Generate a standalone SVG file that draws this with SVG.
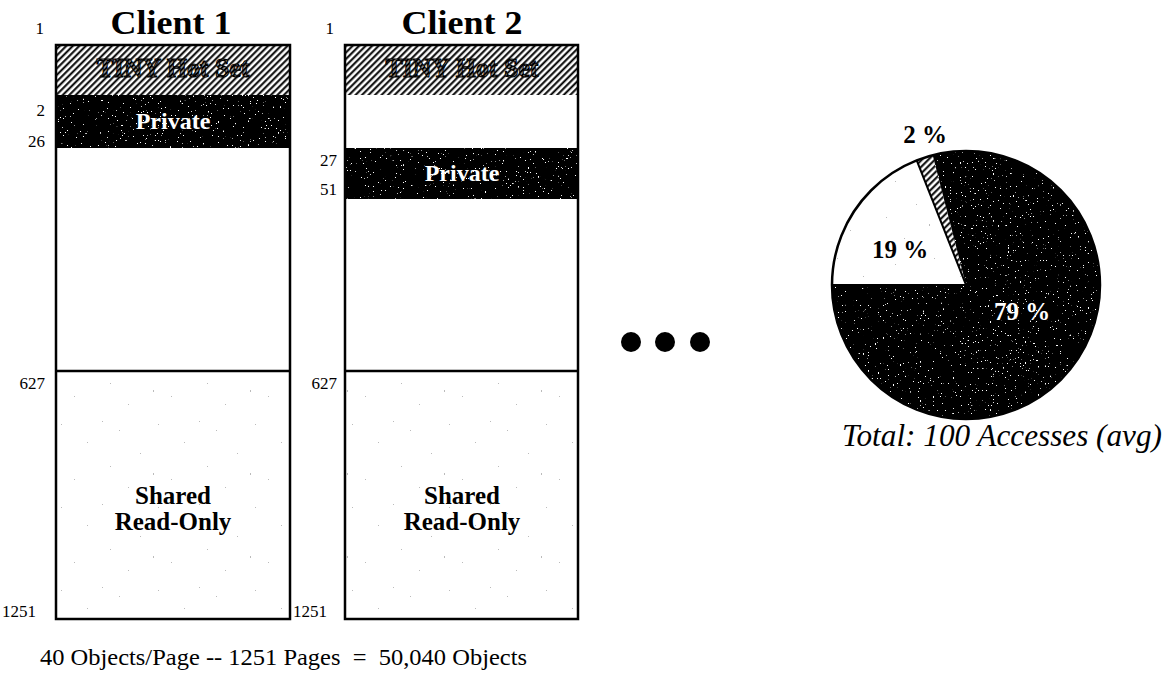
<svg xmlns="http://www.w3.org/2000/svg" width="1167" height="683" viewBox="0 0 1167 683">
  <style>
    .title { font-family: "Liberation Serif", "Times New Roman", serif; font-weight: bold; font-size: 33px; fill: #000; }
    .num { font-family: "Liberation Serif", "Times New Roman", serif; font-size: 17px; fill: #000; }
    .band { font-family: "Liberation Serif", "Times New Roman", serif; font-weight: bold; }
    .hot { font-size: 28px; fill: url(#hatchText); stroke: #000; stroke-width: 1; }
    .priv { font-size: 24px; fill: #fff; }
    .shared { font-size: 25px; fill: #000; }
    .pct { font-family: "Liberation Serif", "Times New Roman", serif; font-weight: bold; font-size: 25px; }
    .caption { font-family: "Liberation Serif", "Times New Roman", serif; font-size: 23px; fill: #000; }
    .total { font-family: "Liberation Serif", "Times New Roman", serif; font-style: italic; font-size: 31px; fill: #000; }
    .frame { fill: none; stroke: #000; stroke-width: 2.5; }
    .rule { stroke: #000; stroke-width: 2.5; }
    .dark { fill: #000; filter: url(#specks); }
  </style>
  <defs>
    <!-- diagonal "/" hatching -->
    <pattern id="hatch" width="4.6" height="4.6" patternUnits="userSpaceOnUse" patternTransform="rotate(45)">
      <rect width="4.6" height="4.6" fill="#fff"/>
      <line x1="1.2" y1="0" x2="1.2" y2="4.6" stroke="#000" stroke-width="2"/>
    </pattern>
    <pattern id="hatchText" width="3.4" height="3.4" patternUnits="userSpaceOnUse" patternTransform="rotate(45)">
      <rect width="3.4" height="3.4" fill="#000"/>
      <line x1="2.6" y1="0" x2="2.6" y2="3.4" stroke="#fff" stroke-width="0.9"/>
    </pattern>
    <!-- black fill sprinkled with white specks -->
    <filter id="specks" x="0" y="0" width="100%" height="100%" color-interpolation-filters="sRGB">
      <feTurbulence type="fractalNoise" baseFrequency="0.6" numOctaves="2" seed="7" result="noise"/>
      <feColorMatrix in="noise" type="matrix" values="0 0 0 0 1  0 0 0 0 1  0 0 0 0 1  26 0 0 0 -18.5" result="dots"/>
      <feComposite in="dots" in2="SourceGraphic" operator="in" result="clip"/>
      <feMerge>
        <feMergeNode in="SourceGraphic"/>
        <feMergeNode in="clip"/>
      </feMerge>
    </filter>
    <!-- faint grey dots on white -->
    <pattern id="faint" width="97" height="83" patternUnits="userSpaceOnUse">
      <rect width="97" height="83" fill="#fff"/>
      <g fill="#bbb">
        <rect x="5" y="6" width="1" height="1"/>
        <rect x="22" y="15" width="1" height="1"/>
        <rect x="61" y="9" width="1" height="1"/>
        <rect x="13" y="51" width="1" height="1"/>
        <rect x="43" y="38" width="1" height="1"/>
        <rect x="87" y="27" width="1" height="1"/>
        <rect x="74" y="64" width="1" height="1"/>
        <rect x="31" y="72" width="1" height="1"/>
        <rect x="56" y="58" width="1" height="2"/>
      </g>
    </pattern>
  </defs>

  <!-- Client 1 page column -->
  <g id="client1">
    <text class="title" x="171" y="34" text-anchor="middle" textLength="121" lengthAdjust="spacingAndGlyphs">Client 1</text>
    <rect x="56" y="45" width="234" height="50" fill="url(#hatch)"/>
    <rect class="dark" x="56" y="95" width="234" height="53"/>
    <rect x="56" y="148" width="234" height="223" fill="#fff"/>
    <rect x="56" y="371" width="234" height="248" fill="url(#faint)"/>
    <rect class="frame" x="56" y="45" width="234" height="574"/>
    <line class="rule" x1="56" y1="371" x2="290" y2="371"/>
    <text class="band hot" x="173" y="77" text-anchor="middle" textLength="153" lengthAdjust="spacingAndGlyphs">TINY Hot Set</text>
    <text class="band priv" x="173" y="129" text-anchor="middle">Private</text>
    <text class="band shared" x="173" y="504" text-anchor="middle">Shared</text>
    <text class="band shared" x="173" y="530" text-anchor="middle">Read-Only</text>
    <text class="num" x="44" y="34" text-anchor="end">1</text>
    <text class="num" x="45" y="116" text-anchor="end">2</text>
    <text class="num" x="45" y="147" text-anchor="end">26</text>
    <text class="num" x="45" y="389" text-anchor="end">627</text>
    <text class="num" x="36" y="617" text-anchor="end" font-size="15">1251</text>
  </g>

  <!-- Client 2 page column -->
  <g id="client2">
    <text class="title" x="462" y="34" text-anchor="middle" textLength="121" lengthAdjust="spacingAndGlyphs">Client 2</text>
    <rect x="345" y="45" width="233" height="50" fill="url(#hatch)"/>
    <rect x="345" y="95" width="233" height="53" fill="#fff"/>
    <rect class="dark" x="345" y="148" width="233" height="51"/>
    <rect x="345" y="199" width="233" height="172" fill="#fff"/>
    <rect x="345" y="371" width="233" height="248" fill="url(#faint)"/>
    <rect class="frame" x="345" y="45" width="233" height="574"/>
    <line class="rule" x1="345" y1="371" x2="578" y2="371"/>
    <text class="band hot" x="462" y="77" text-anchor="middle" textLength="153" lengthAdjust="spacingAndGlyphs">TINY Hot Set</text>
    <text class="band priv" x="462" y="181" text-anchor="middle">Private</text>
    <text class="band shared" x="462" y="504" text-anchor="middle">Shared</text>
    <text class="band shared" x="462" y="530" text-anchor="middle">Read-Only</text>
    <text class="num" x="334" y="34" text-anchor="end">1</text>
    <text class="num" x="337" y="166" text-anchor="end">27</text>
    <text class="num" x="337" y="195" text-anchor="end">51</text>
    <text class="num" x="337" y="389" text-anchor="end">627</text>
    <text class="num" x="327" y="617" text-anchor="end" font-size="15">1251</text>
  </g>

  <!-- ellipsis between clients -->
  <g id="ellipsis" fill="#000">
    <circle cx="631" cy="342" r="10"/>
    <circle cx="665" cy="342" r="10"/>
    <circle cx="700" cy="342" r="10"/>
  </g>

  <!-- access mix pie: 19% / 2% / 79% -->
  <g id="pie">
    <path d="M966,285 L832,285 A134,134 0 0 1 916.7,160.4 Z" fill="url(#faint)"/>
    <path d="M966,285 L916.7,160.4 A134,134 0 0 1 932.7,155.2 Z" fill="url(#hatch)"/>
    <path class="dark" d="M966,285 L932.7,155.2 A134,134 0 1 1 832,285 Z"/>
    <circle cx="966" cy="285" r="134" fill="none" stroke="#000" stroke-width="2.5"/>
    <path d="M832,285 L966,285 L916.7,160.4" fill="none" stroke="#000" stroke-width="2"/>
    <text class="pct" x="925" y="143" text-anchor="middle" fill="#000">2 %</text>
    <text class="pct" x="900" y="258" text-anchor="middle" fill="#000">19 %</text>
    <text class="pct" x="1022" y="320" text-anchor="middle" fill="#fff">79 %</text>
    <text class="total" x="1002" y="446" text-anchor="middle" textLength="320" lengthAdjust="spacingAndGlyphs">Total: 100 Accesses (avg)</text>
  </g>

  <!-- database size note -->
  <g id="caption">
    <text class="caption" x="40" y="665" textLength="487" lengthAdjust="spacingAndGlyphs" xml:space="preserve">40 Objects/Page -- 1251 Pages  =  50,040 Objects</text>
  </g>
</svg>
